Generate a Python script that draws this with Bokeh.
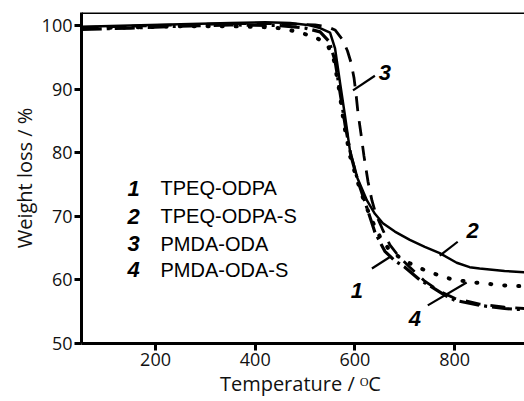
from bokeh.plotting import figure
from bokeh.models import FixedTicker, Span, Label
from bokeh.embed import file_html
from bokeh.resources import INLINE

# ---- data ----
series_names = ["TPEQ-ODPA", "TPEQ-ODPA-S", "PMDA-ODA", "PMDA-ODA-S"]
series_ids = ["1", "2", "3", "4"]

t1 = [52, 150, 250, 350, 440, 480, 520, 545, 558, 568, 578, 590, 605, 620, 635, 650, 670, 700, 726, 750, 790, 826, 864, 904, 940]
w1 = [99.6, 99.7, 99.9, 99.9, 99.7, 99.1, 98.2, 97.0, 94.5, 90.0, 84.5, 79.5, 75.5, 72.0, 69.2, 66.8, 64.6, 63.0, 62.0, 61.2, 60.2, 59.7, 59.4, 59.1, 59.0]

t2 = [52, 150, 250, 350, 420, 470, 505, 530, 550, 560, 570, 580, 590, 605, 624, 640, 656, 680, 710, 740, 770, 804, 830, 850, 900, 940]
w2 = [99.8, 100.0, 100.2, 100.4, 100.5, 100.4, 100.1, 99.6, 98.9, 96.4, 91.0, 85.8, 80.3, 76.0, 72.5, 70.4, 68.9, 67.6, 66.3, 65.2, 64.2, 62.7, 62.0, 61.8, 61.4, 61.2]

t3 = [52, 150, 250, 350, 450, 520, 545, 560, 575, 585, 592, 598, 602, 606, 612, 618, 626, 634, 642, 655, 670, 690, 710, 740, 770, 800, 850, 900, 940]
w3 = [99.7, 99.9, 100.1, 100.3, 100.3, 100.1, 99.8, 99.3, 97.8, 96.0, 94.2, 91.8, 89.3, 86.3, 83.0, 79.5, 75.5, 72.5, 70.3, 68.0, 65.5, 63.5, 62.0, 59.8, 58.2, 57.1, 56.2, 55.7, 55.5]

t4 = [52, 150, 250, 350, 450, 500, 530, 548, 560, 570, 580, 592, 606, 622, 640, 660, 680, 700, 730, 760, 780, 800, 850, 900, 940]
w4 = [99.4, 99.6, 99.9, 100.1, 100.0, 99.6, 99.0, 97.5, 94.5, 89.5, 84.5, 79.5, 75.5, 71.8, 67.5, 64.5, 63.0, 62.0, 60.0, 58.6, 57.6, 56.8, 56.0, 55.5, 55.3]

x_ticks = [200, 400, 600, 800]
y_ticks = [50, 60, 70, 80, 90, 100]

X_START, X_END = 51.5, 940
Y_START, Y_END = 50, 102.05

p = figure(width=524, height=401, x_range=(X_START, X_END), y_range=(Y_START, Y_END),
           output_backend="svg", toolbar_location=None,
           min_border_left=81, min_border_right=0, min_border_top=12, min_border_bottom=58)
p.outline_line_color = None
p.xgrid.visible = False
p.ygrid.visible = False
p.background_fill_color = "white"
p.border_fill_color = "white"

for ax in (p.xaxis[0], p.yaxis[0]):
    ax.axis_line_width = 3
    ax.axis_line_color = "black"
    ax.major_tick_line_width = 3
    ax.major_tick_line_color = "black"
    ax.major_tick_out = 7
    ax.major_tick_in = 0
    ax.minor_tick_line_color = None
    ax.major_label_text_font = "Open Sans"
    ax.major_label_text_font_size = "18px"
    ax.major_label_text_color = "#111111"
    ax.major_label_standoff = 2
    ax.axis_label_text_font = "Open Sans"
    ax.axis_label_text_font_size = "20px"
    ax.axis_label_text_font_style = "normal"
    ax.axis_label_text_color = "#111111"
    ax.axis_label_standoff = 1

p.xaxis.ticker = FixedTicker(ticks=x_ticks)
p.yaxis.ticker = FixedTicker(ticks=y_ticks)
p.xaxis.axis_label = "Temperature  / \u1d3cC"
p.yaxis.axis_label = "Weight loss / %"

# top frame line
p.add_layout(Span(location=Y_END, dimension="width", line_color="black", line_width=3))

# curves
p.line(t2, w2, line_color="black", line_width=2.5)
p.line(t3, w3, line_color="black", line_width=2.8, line_dash="15 10")
p.line(t1, w1, line_color="black", line_width=4, line_dash="1 13", line_cap="round")
p.line(t4, w4, line_color="black", line_width=3.2, line_dash="20 5 3 5")

# legend-like text block
legend_num_x = 156
legend_txt_x = 210
legend_y = [74.4, 70.0, 65.7, 61.6]
for sid, name, yy in zip(series_ids, series_names, legend_y):
    p.add_layout(Label(x=legend_num_x, y=yy, text=sid, text_font="Liberation Sans",
                       text_font_style="bold italic", text_font_size="22px",
                       text_align="center", text_baseline="middle", text_color="black"))
    p.add_layout(Label(x=legend_txt_x, y=yy, text=name, text_font="Liberation Sans",
                       text_font_size="20px", text_align="left", text_baseline="middle",
                       text_color="black"))

# curve tags with pointer lines
tag_pos = {"1": (604, 58.3), "2": (836, 67.8), "3": (660, 92.6), "4": (720, 54.0)}
ptr = {"1": ((634, 61.8), (670, 63.6)), "2": ((770, 63.8), (806, 66.0)),
       "3": ((596, 89.8), (640, 92.1)), "4": ((746, 56.0), (824, 59.6))}
for sid in series_ids:
    (xa, ya), (xb, yb) = ptr[sid]
    p.segment(x0=[xa], y0=[ya], x1=[xb], y1=[yb], line_color="black", line_width=2.2)
    tx, ty = tag_pos[sid]
    p.add_layout(Label(x=tx, y=ty, text=sid, text_font="Liberation Sans",
                       text_font_style="bold italic", text_font_size="22px",
                       text_align="center", text_baseline="middle", text_color="black"))

open("out.html", "w").write(file_html(p, INLINE))
